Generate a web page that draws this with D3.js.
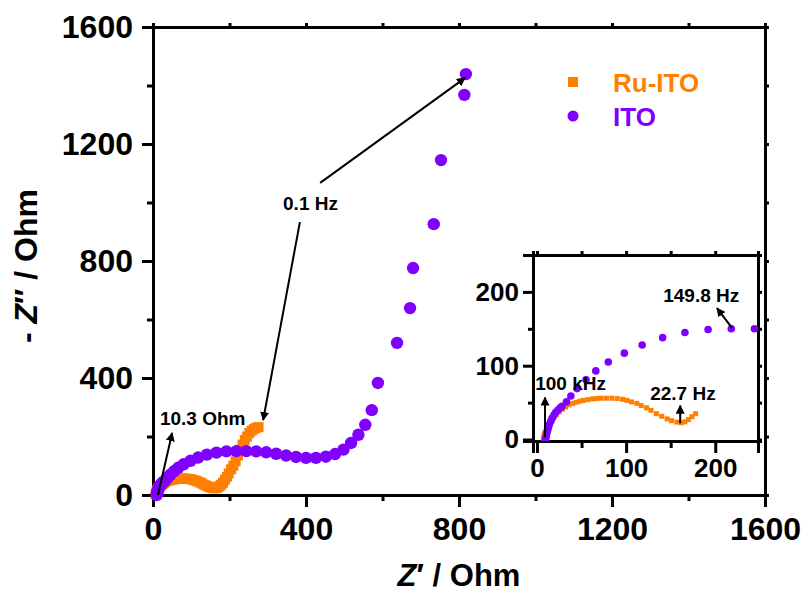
<!DOCTYPE html>
<html>
<head>
<meta charset="utf-8">
<script src="https://cdn.jsdelivr.net/npm/d3@7"></script>
<style>
  body { margin: 0; background: #fff; }
  svg { display: block; font-family: 'Liberation Sans', Arial, sans-serif; font-weight: bold; }
</style>
</head>
<body>
<svg id="chart" width="806" height="594"></svg>
<script>
// Nyquist data (Z' and -Z'' in Ohm)
const ruZre = [7, 8, 9, 10.5, 12, 14, 16.5, 19, 22, 25, 28.5, 32, 36, 40, 44, 48, 52, 57, 62, 67, 72, 78, 84, 90, 96, 101, 106, 112, 117, 123, 128, 134, 140, 146, 151, 157, 162, 166, 170, 174, 178, 183, 188, 193, 198, 204, 210, 216, 222, 228, 234, 240, 246, 252, 258, 264, 270, 276];
const ruZim = [2, 6, 10, 14, 18, 22, 26, 30, 34, 37.5, 41, 44, 47, 49, 50.5, 52, 53, 54, 55, 55.5, 56, 56, 56, 55.5, 54.5, 53, 51, 49, 46, 43, 39.5, 35, 31.5, 28, 25.5, 23.5, 22.7, 24, 27, 31, 35, 42, 52, 62, 74, 88, 100, 115, 135, 155, 172, 188, 200, 212, 220, 226, 230, 232];
const itoZre = [9.5, 10, 10.5, 11, 12, 13, 14, 15.5, 17, 19, 21, 23.5, 26, 28, 33, 38, 45, 55, 66, 80, 98, 118, 141, 166, 192, 218, 244, 270, 296, 322, 348, 374, 400, 426, 452, 476, 498, 518, 537, 555, 572, 588, 638, 672, 680, 734, 753, 814, 818];
const itoZim = [0, 3, 6, 9, 13, 17, 21, 25, 29, 33, 37, 40, 43, 45, 51, 59, 69, 81, 93, 105, 117, 128, 138, 145, 149, 150, 150, 149, 146, 141, 135, 130, 127, 127, 131, 140, 155, 178, 206, 240, 290, 383, 520, 639, 776, 926, 1145, 1368, 1439];
// the inset only shows the high-frequency part of Ru-ITO
const insetRuCount = 41;

const mainXTicks = [0, 400, 800, 1200, 1600];
const mainYTicks = [0, 400, 800, 1200, 1600];
const mainMinor = [200, 600, 1000, 1400];
const insetTicks = [0, 100, 200];
const insetMinor = [50, 150, 250];

const seriesNames = ['Ru-ITO', 'ITO'];
const colors = { ru: '#ff7f00', ito: '#7f00ff' };

const svg = d3.select('#chart');

svg.append('defs').append('marker')
  .attr('id', 'head')
  .attr('viewBox', '0 0 10 10')
  .attr('refX', 9).attr('refY', 5)
  .attr('markerWidth', 9).attr('markerHeight', 9)
  .attr('markerUnits', 'userSpaceOnUse')
  .attr('orient', 'auto')
  .append('path').attr('d', 'M0,0 L10,5 L0,10 z').attr('fill', '#000');

// ---------- main plot ----------
const x = d3.scaleLinear().domain([0, 1600]).range([153, 765]);
const y = d3.scaleLinear().domain([0, 1600]).range([495, 27]);

const main = svg.append('g').attr('class', 'main');

function styleAxis(g, fontSize) {
  g.select('.domain').attr('stroke', '#000').attr('stroke-width', 3);
  g.selectAll('.tick line').attr('stroke', '#000').attr('stroke-width', 3);
  g.selectAll('.tick text').attr('fill', '#000').attr('font-size', fontSize).attr('font-weight', 'bold');
}

// frame, top and right with short outward ticks
main.append('g').attr('transform', `translate(0,${y(1600)})`)
  .call(d3.axisTop(x).tickValues(d3.range(0, 1601, 200)).tickSize(4).tickFormat(''))
  .call(g => styleAxis(g, 0));
main.append('g').attr('transform', `translate(${x(1600)},0)`)
  .call(d3.axisRight(y).tickValues(d3.range(0, 1601, 200)).tickSize(4).tickFormat(''))
  .call(g => styleAxis(g, 0));

main.append('g').attr('transform', `translate(0,${y(0)})`)
  .call(d3.axisBottom(x).tickValues(mainMinor).tickSize(6).tickFormat(''))
  .call(g => styleAxis(g, 0));
main.append('g').attr('transform', `translate(0,${y(0)})`)
  .call(d3.axisBottom(x).tickValues(mainXTicks).tickSize(12).tickPadding(10).tickFormat(d3.format('d')))
  .call(g => styleAxis(g, 32));

main.append('g').attr('transform', `translate(${x(0)},0)`)
  .call(d3.axisLeft(y).tickValues(mainMinor).tickSize(6).tickFormat(''))
  .call(g => styleAxis(g, 0));
main.append('g').attr('transform', `translate(${x(0)},0)`)
  .call(d3.axisLeft(y).tickValues(mainYTicks).tickSize(11).tickPadding(9).tickFormat(d3.format('d')))
  .call(g => styleAxis(g, 32));

// axis titles
const xt = svg.append('text').attr('x', 459).attr('y', 586)
  .attr('text-anchor', 'middle').attr('font-size', 31).attr('fill', '#000');
xt.append('tspan').attr('font-style', 'italic').text('Z');
xt.append('tspan').text('\u2032 / Ohm');

const yt = svg.append('text').attr('transform', 'translate(37,266) rotate(-90)')
  .attr('text-anchor', 'middle').attr('font-size', 32).attr('fill', '#000');
yt.append('tspan').text('- ');
yt.append('tspan').attr('font-style', 'italic').text('Z');
yt.append('tspan').text('\u2033 / Ohm');

const ruData = ruZre.map((v, i) => [v, ruZim[i]]);
const itoData = itoZre.map((v, i) => [v, itoZim[i]]);

main.append('g').selectAll('rect').data(ruData).join('rect')
  .attr('x', d => x(d[0]) - 5).attr('y', d => y(d[1]) - 5)
  .attr('width', 10).attr('height', 10).attr('fill', colors.ru);
main.append('g').selectAll('circle').data(itoData).join('circle')
  .attr('cx', d => x(d[0])).attr('cy', d => y(d[1])).attr('r', 6.2).attr('fill', colors.ito);

// legend
const legend = svg.append('g').attr('font-size', 26);
legend.append('rect').attr('x', 568).attr('y', 77).attr('width', 10).attr('height', 10).attr('fill', colors.ru);
legend.append('text').attr('x', 613).attr('y', 92).attr('fill', colors.ru).text(seriesNames[0]);
legend.append('circle').attr('cx', 573).attr('cy', 116).attr('r', 5.5).attr('fill', colors.ito);
legend.append('text').attr('x', 613).attr('y', 126).attr('fill', colors.ito).text(seriesNames[1]);

// annotations on the main plot, in data units
const mainNotes = [
  { text: '10.3 Ohm', tx: 18, ty: 239, arrows: [[13, 0, 50, 212]] },
  { text: '0.1 Hz', tx: 340, ty: 974, arrows: [[384, 933, 288, 256], [437, 1067, 816, 1426]] }
];
mainNotes.forEach(n => {
  main.append('text').attr('x', x(n.tx)).attr('y', y(n.ty)).attr('font-size', 19).attr('fill', '#000').text(n.text);
  n.arrows.forEach(a => {
    main.append('line').attr('x1', x(a[0])).attr('y1', y(a[1])).attr('x2', x(a[2])).attr('y2', y(a[3]))
      .attr('stroke', '#000').attr('stroke-width', 2).attr('marker-end', 'url(#head)');
  });
});

// ---------- inset ----------
const xi = d3.scaleLinear().domain([-4.5, 248]).range([533, 758]);
const yi = d3.scaleLinear().domain([-2, 250]).range([441, 255]);
const inset = svg.append('g').attr('class', 'inset');

inset.append('clipPath').attr('id', 'insetClip').append('rect')
  .attr('x', xi.range()[0]).attr('y', yi.range()[1])
  .attr('width', xi.range()[1] - xi.range()[0]).attr('height', yi.range()[0] - yi.range()[1]);
inset.append('rect')
  .attr('x', xi.range()[0]).attr('y', yi.range()[1])
  .attr('width', xi.range()[1] - xi.range()[0]).attr('height', yi.range()[0] - yi.range()[1])
  .attr('fill', '#fff');

inset.append('g').attr('transform', `translate(0,${yi.range()[1]})`)
  .call(d3.axisTop(xi).tickValues(d3.range(0, 201, 50)).tickSize(4).tickFormat(''))
  .call(g => styleAxis(g, 0));
inset.append('g').attr('transform', `translate(${xi.range()[1]},0)`)
  .call(d3.axisRight(yi).tickValues(d3.range(0, 201, 50)).tickSize(4).tickFormat(''))
  .call(g => styleAxis(g, 0));
inset.append('g').attr('transform', `translate(0,${yi.range()[0]})`)
  .call(d3.axisBottom(xi).tickValues(insetMinor.filter(v => v < 248)).tickSize(7).tickFormat(''))
  .call(g => styleAxis(g, 0));
inset.append('g').attr('transform', `translate(0,${yi.range()[0]})`)
  .call(d3.axisBottom(xi).tickValues(insetTicks).tickSize(12).tickPadding(6).tickFormat(d3.format('d')))
  .call(g => styleAxis(g, 26));
inset.append('g').attr('transform', `translate(${xi.range()[0]},0)`)
  .call(d3.axisLeft(yi).tickValues(insetMinor.filter(v => v < 250)).tickSize(5).tickFormat(''))
  .call(g => styleAxis(g, 0));
inset.append('g').attr('transform', `translate(${xi.range()[0]},0)`)
  .call(d3.axisLeft(yi).tickValues(insetTicks).tickSize(10).tickPadding(4).tickFormat(d3.format('d')))
  .call(g => styleAxis(g, 26));

const plot = inset.append('g').attr('clip-path', 'url(#insetClip)');
plot.append('g').selectAll('rect').data(ruData.slice(0, insetRuCount)).join('rect')
  .attr('x', d => xi(d[0]) - 2.5).attr('y', d => yi(d[1]) - 2.5)
  .attr('width', 5).attr('height', 5).attr('fill', colors.ru);
plot.append('g').selectAll('circle').data(itoData).join('circle')
  .attr('cx', d => xi(d[0])).attr('cy', d => yi(d[1])).attr('r', 3.8).attr('fill', colors.ito);

const insetNotes = [
  { text: '100 kHz', tx: -2, ty: 67, arrow: [9, 3, 9, 57] },
  { text: '22.7 Hz', tx: 127, ty: 53, arrow: [160.7, 22, 160.7, 46] },
  { text: '149.8 Hz', tx: 141.6, ty: 186, arrow: [219, 151, 202, 178] }
];
insetNotes.forEach(n => {
  inset.append('text').attr('x', xi(n.tx)).attr('y', yi(n.ty)).attr('font-size', 19).attr('fill', '#000').text(n.text);
  const a = n.arrow;
  inset.append('line').attr('x1', xi(a[0])).attr('y1', yi(a[1])).attr('x2', xi(a[2])).attr('y2', yi(a[3]))
    .attr('stroke', '#000').attr('stroke-width', 2).attr('marker-end', 'url(#head)');
});
</script>
</body>
</html>
